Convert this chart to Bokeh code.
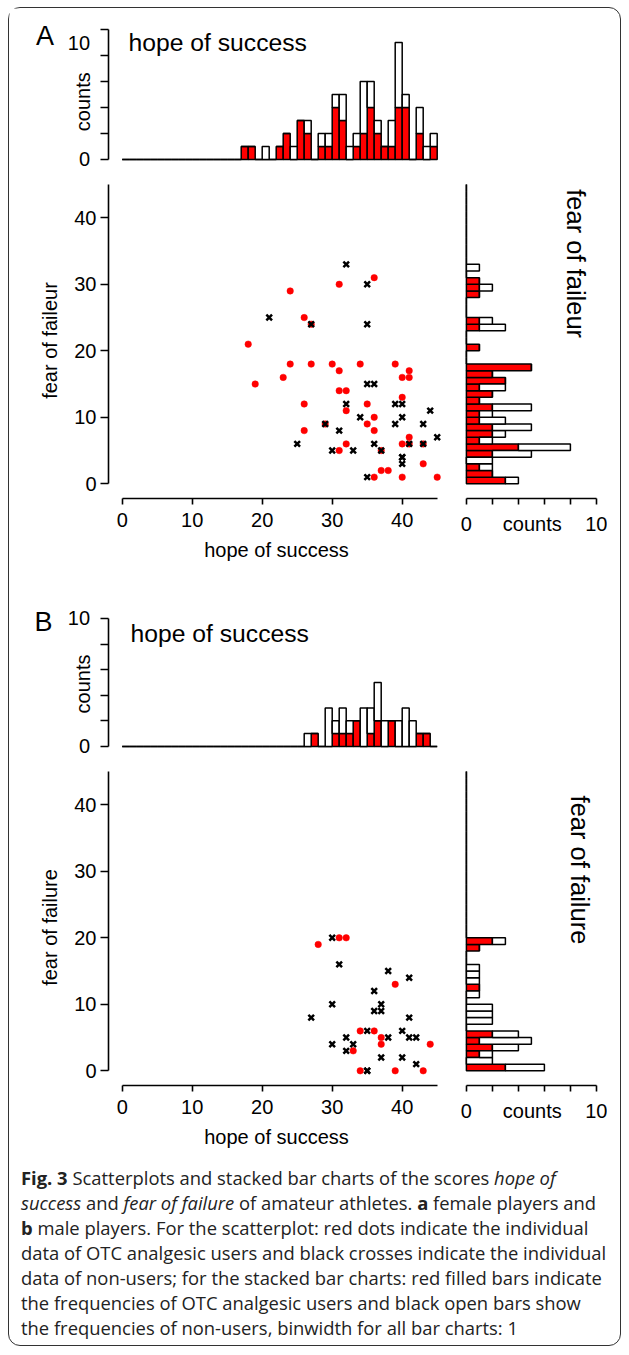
import numpy as np
from bokeh.plotting import figure
from bokeh.models import Range1d, FixedTicker, Label, Div
from bokeh.layouts import column, row
from bokeh.embed import file_html
from bokeh.resources import INLINE

# ---------------- data: panel A (female players) ----------------
A_hope_bins = [18, 19, 21, 23, 24, 25, 26, 27, 29, 30, 31, 32, 33, 34, 35, 36, 37, 38, 39, 40, 41, 43, 44, 45]
A_hope_users = [1, 1, 0, 1, 2, 0, 3, 2, 1, 1, 4, 3, 0, 1, 2, 4, 2, 1, 1, 4, 4, 2, 0, 1]
A_hope_nonusers = [0, 0, 1, 0, 0, 1, 0, 1, 1, 1, 1, 2, 1, 1, 4, 2, 1, 0, 2, 5, 1, 2, 1, 1]

A_fear_bins = [33, 31, 30, 29, 25, 24, 21, 18, 17, 16, 15, 14, 13, 12, 11, 10, 9, 8, 7, 6, 5, 4, 3, 2, 1]
A_fear_users = [0, 1, 1, 1, 1, 1, 1, 5, 2, 3, 1, 2, 1, 2, 1, 1, 2, 2, 1, 4, 2, 0, 1, 2, 3]
A_fear_nonusers = [1, 0, 1, 0, 1, 2, 0, 0, 0, 0, 2, 0, 0, 3, 1, 2, 3, 1, 1, 4, 3, 2, 1, 0, 1]

A_users_hope = [36, 31, 24, 26, 27, 18, 24, 27, 30, 34, 39, 31, 41, 40, 41, 23, 19, 31, 32, 40, 26,
                35, 32, 36, 35, 29, 26, 36, 41, 32, 40, 41, 43, 31, 37, 43, 37, 38, 36, 40, 45]
A_users_fear = [31, 30, 29, 25, 24, 21, 18, 18, 18, 18, 18, 17, 17, 16, 16, 16, 15, 14, 14, 13, 12,
                12, 11, 10, 9, 9, 8, 8, 7, 6, 6, 6, 6, 5, 5, 3, 2, 2, 1, 1, 1]
A_non_hope = [32, 35, 21, 27, 35, 35, 36, 32, 39, 40, 44, 34, 40, 29, 39, 43, 31, 45, 25, 36, 41,
              43, 30, 33, 37, 40, 40, 40, 35]
A_non_fear = [33, 30, 25, 24, 24, 15, 15, 12, 12, 12, 11, 10, 10, 9, 9, 9, 8, 7, 6, 6, 6,
              6, 5, 5, 5, 4, 4, 3, 1]

# ---------------- data: panel B (male players) ----------------
B_hope_bins = [27, 28, 30, 31, 32, 33, 34, 35, 36, 37, 38, 39, 40, 41, 42, 43, 44]
B_hope_users = [0, 1, 0, 1, 1, 1, 2, 0, 1, 2, 0, 2, 0, 0, 0, 1, 1]
B_hope_nonusers = [1, 0, 3, 1, 2, 1, 0, 3, 2, 3, 2, 0, 2, 3, 2, 0, 0]

B_fear_bins = [20, 19, 16, 15, 14, 13, 12, 10, 9, 8, 6, 5, 4, 3, 2, 1]
B_fear_users = [2, 1, 0, 0, 0, 1, 0, 0, 0, 0, 2, 1, 2, 1, 0, 3]
B_fear_nonusers = [1, 0, 1, 1, 1, 0, 1, 2, 2, 2, 2, 4, 2, 1, 2, 3]

B_users_hope = [28, 31, 32, 39, 34, 36, 37, 37, 44, 33, 34, 39, 43]
B_users_fear = [19, 20, 20, 13, 6, 6, 5, 4, 4, 3, 0, 0, 0]
B_non_hope = [30, 31, 38, 41, 36, 37, 30, 36, 37, 27, 41, 35, 40, 38, 41, 42, 32, 30, 33, 32, 37, 40, 42, 35, 35]
B_non_fear = [20, 16, 15, 14, 12, 10, 10, 9, 9, 8, 8, 6, 6, 5, 5, 5, 5, 4, 4, 3, 2, 2, 1, 0, 0]

hope_ticks = [0, 10, 20, 30, 40]
fear_ticks = [0, 10, 20, 30, 40]
count_ticks = [0, 2, 4, 6, 8, 10]
N_BINS = 45

FONT = "Liberation Sans"
RED = "#ff0000"
NBSP = "\u00a0"

# ---------------- geometry ----------------
CX0 = 9.5           # page x of the content's left edge
PX_X = 7.0          # px per score unit (horizontal)
PX_Y = 6.65         # px per score unit (vertical)
PX_C = 13.0         # px per count (side histogram)
FRAME_W = 336
X_START = -13.7 / PX_X
X_END = X_START + FRAME_W / PX_X
SC_H = 316
SC_Y0 = -14.7 / PX_Y
SC_Y1 = SC_Y0 + SC_H / PX_Y
RH_W = 140
RH_X0 = -0.3
RH_X1 = RH_X0 + RH_W / PX_C
LW = 87             # width of the left label strip next to the top histograms
TOP_MBL = 12


def style_axis(ax, tick_out, standoff):
    ax.axis_line_width = 1.6
    ax.axis_line_color = "black"
    ax.major_tick_line_width = 1.6
    ax.major_tick_line_color = "black"
    ax.major_tick_in = 0
    ax.major_tick_out = tick_out
    ax.minor_tick_line_color = None
    ax.major_label_standoff = standoff
    ax.major_label_text_font = FONT
    ax.major_label_text_font_size = "20px"
    ax.major_label_text_color = "black"
    ax.axis_label_text_font = FONT
    ax.axis_label_text_font_size = "20px"
    ax.axis_label_text_font_style = "normal"
    ax.axis_label_text_color = "black"


def base_fig(fw, fh, xr, yr, mbl, mbr, mbt, mbb):
    p = figure(frame_width=fw, frame_height=fh, x_range=xr, y_range=yr,
               min_border_left=mbl, min_border_right=mbr,
               min_border_top=mbt, min_border_bottom=mbb,
               output_backend="svg", toolbar_location=None)
    p.outline_line_color = None
    p.xgrid.visible = False
    p.ygrid.visible = False
    p.background_fill_color = "white"
    p.border_fill_color = "white"
    return p


def full_counts(bins, users, nonusers):
    u = np.zeros(N_BINS)
    n = np.zeros(N_BINS)
    for b, a, c in zip(bins, users, nonusers):
        u[b - 1] = a
        n[b - 1] = c
    return u, n


def txt(p, x, y, text, size, angle=0.0, align="left", baseline="middle"):
    p.add_layout(Label(x=x, y=y, text=text, text_font=FONT, text_font_size=size,
                       text_color="black", angle=angle, text_align=align,
                       text_baseline=baseline))


def top_hist(bins, users, nonusers, px_c, y0, frame_h, mbt, letter, letter_xy,
             title_xy, counts_y, ten_y):
    u, n = full_counts(bins, users, nonusers)
    v = np.arange(1, N_BINS + 1)
    y1 = y0 + frame_h / px_c
    p = base_fig(FRAME_W, frame_h, Range1d(X_START, X_END), Range1d(y0, y1),
                 TOP_MBL, 8, mbt, 0)
    p.quad(left=v - 1, right=v, bottom=0, top=u, fill_color=RED,
           line_color="black", line_width=1.5)
    p.quad(left=v - 1, right=v, bottom=u, top=u + n, fill_color="white",
           line_color="black", line_width=1.5)
    p.xaxis.visible = False
    ax = p.yaxis[0]
    ax.ticker = FixedTicker(ticks=count_ticks)
    ax.bounds = (0, 10)
    style_axis(ax, 8, 0)
    ax.major_label_overrides = {t: "" for t in count_ticks}
    txt(p, title_xy[0], title_xy[1], "hope of success", "24.7px")

    # strip at the left holding the panel letter and the count-axis texts
    q = base_fig(LW, frame_h, Range1d(CX0, CX0 + LW), Range1d(y0, y1), 0, 0, mbt, 0)
    q.xaxis.visible = False
    q.yaxis.visible = False
    txt(q, letter_xy[0], letter_xy[1], letter, "27px", align="center")
    txt(q, 83, counts_y, "counts", "20px", angle=np.pi / 2, align="center")
    txt(q, 90, 0, "0", "20px", align="right")
    txt(q, 90, ten_y, "10", "20px", align="right")
    return row(q, p)


def scatter_fig(uh, uf, nh, nf, ylabel, mbb):
    p = base_fig(FRAME_W, SC_H, Range1d(X_START, X_END), Range1d(SC_Y0, SC_Y1),
                 LW + TOP_MBL, 8, 10, mbb)
    p.scatter(uh, uf, marker="circle", size=6.5, fill_color=RED, line_color=RED, line_width=0.5)
    p.scatter(nh, nf, marker="x", size=8, line_color="black", line_width=2.5)
    xa = p.xaxis[0]
    xa.ticker = FixedTicker(ticks=hope_ticks)
    xa.bounds = (0, 45)
    style_axis(xa, 6, 8)
    xa.axis_label = "hope of success"
    xa.axis_label_standoff = 9
    ya = p.yaxis[0]
    ya.ticker = FixedTicker(ticks=fear_ticks)
    ya.bounds = (0, 45)
    style_axis(ya, 8, 4)
    ya.axis_label = ylabel
    ya.axis_label_standoff = 10
    return p


def right_hist(bins, users, nonusers, label, lab_x, lab_y, mbb):
    u, n = full_counts(bins, users, nonusers)
    v = np.arange(1, N_BINS + 1)
    p = base_fig(RH_W, SC_H, Range1d(RH_X0, RH_X1), Range1d(SC_Y0, SC_Y1), 10, 5, 10, mbb)
    p.quad(left=0, right=u, bottom=v - 1, top=v, fill_color=RED,
           line_color="black", line_width=1.5)
    p.quad(left=u, right=u + n, bottom=v - 1, top=v, fill_color="white",
           line_color="black", line_width=1.5)
    p.yaxis.visible = False
    xa = p.xaxis[0]
    xa.ticker = FixedTicker(ticks=count_ticks)
    xa.bounds = (0, 10)
    style_axis(xa, 6, 8)
    xa.major_label_overrides = {2: "", 4: NBSP * 5 + "counts", 6: "", 8: ""}
    txt(p, lab_x, lab_y, label, "25.5px", angle=-np.pi / 2, align="center")
    return p


# ---------------- panel A ----------------
# baseline at page y 159.4, frame from 14.5 to 172.5
topA = top_hist(A_hope_bins, A_hope_users, A_hope_nonusers, 13.0, -13.1 / 13.0, 158, 6, "A",
                (45, (159.4 - 35.5) / 13.0), (0.9, (159.4 - 42) / 13.0),
                (159.4 - 101.7) / 13.0, (159.4 - 43.3) / 13.0)
scatA = scatter_fig(A_users_hope, A_users_fear, A_non_hope, A_non_fear, "fear of faileur", 80)
rightA = right_hist(A_fear_bins, A_fear_users, A_fear_nonusers, "fear of faileur",
                    8.4, 33.1, 80)

# ---------------- panel B ----------------
# baseline at page y 746.4, frame from 600.5 to 759.5
topB = top_hist(B_hope_bins, B_hope_users, B_hope_nonusers, 12.8, -13.1 / 12.8, 159, 22, "B",
                (43.5, (746.4 - 621.5) / 12.8), (1.19, (746.4 - 633) / 12.8),
                (746.4 - 684) / 12.8, 10)
scatB = scatter_fig(B_users_hope, B_users_fear, B_non_hope, B_non_fear, "fear of failure", 80)
rightB = right_hist(B_fear_bins, B_fear_users, B_fear_nonusers, "fear of failure",
                    8.7, 30.2, 80)

caption_lines = [
    "<b>Fig. 3</b> Scatterplots and stacked bar charts of the scores <i>hope of</i>",
    "<i>success</i> and <i>fear of failure</i> of amateur athletes. <b>a</b> female players and",
    "<b>b</b> male players. For the scatterplot: red dots indicate the individual",
    "data of OTC analgesic users and black crosses indicate the individual",
    "data of non-users; for the stacked bar charts: red filled bars indicate",
    "the frequencies of OTC analgesic users and black open bars show",
    "the frequencies of non-users, binwidth for all bar charts: 1",
]
caption_html = ('<div style="font-family:\'Open Sans\',sans-serif;font-size:18.4px;'
                'line-height:25px;color:#222;padding-left:12px;white-space:nowrap;">'
                + "<br>".join(caption_lines) + "</div>")
cap = Div(text=caption_html, width=611, height=180, margin=0)

panelA = column(topA, row(scatA, rightA))
panelB = column(topB, row(scatB, rightB))
layout = column(panelA, panelB, cap, margin=(7, 0, 0, 8),
                styles={"border": "1.5px solid #333", "border-radius": "12px"})

open("out.html", "w").write(file_html(layout, INLINE))
